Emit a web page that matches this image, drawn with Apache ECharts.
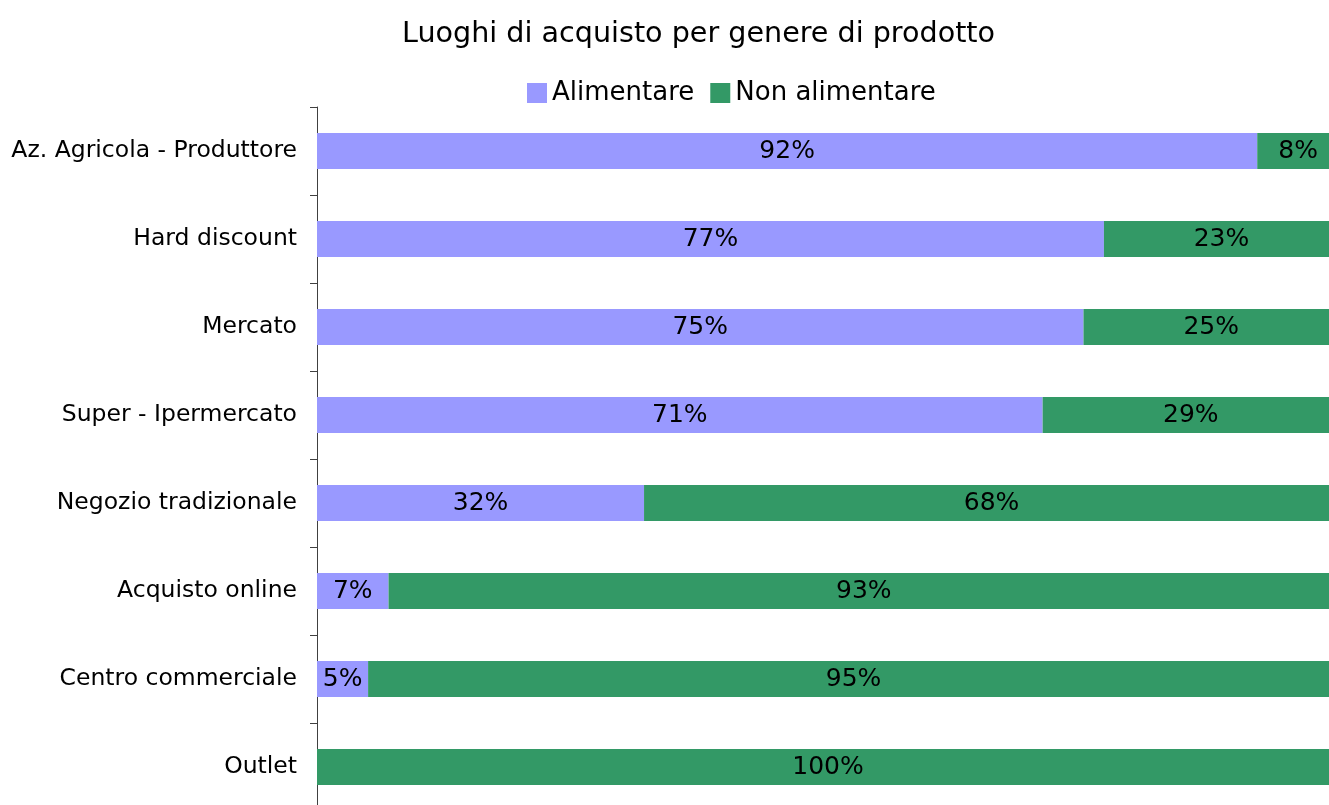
<!DOCTYPE html>
<html>
<head>
<meta charset="utf-8">
<script src="https://cdn.jsdelivr.net/npm/echarts@6/dist/echarts.min.js"></script>
<style>
  html, body { margin: 0; padding: 0; background: #fff; overflow: hidden; }
  /* plot runs slightly past the visible window, as in the original */
  #chart { width: 1339px; height: 811px; }
</style>
</head>
<body>
<div id="chart"></div>
<script>
// categories top to bottom
const categories = [
  'Az. Agricola - Produttore',
  'Hard discount',
  'Mercato',
  'Super - Ipermercato',
  'Negozio tradizionale',
  'Acquisto online',
  'Centro commerciale',
  'Outlet'
];
const alimentare = [92, 77, 75, 71, 32, 7, 5, 0];
const nonAlimentare = [8, 23, 25, 29, 68, 93, 95, 100];

const FONT = 'DejaVu Sans';

const chart = echarts.init(document.getElementById('chart'));

const labelOpt = {
  show: true,
  position: 'inside',
  color: '#000',
  fontFamily: FONT,
  fontSize: 25,
  formatter: (p) => (p.value > 0 ? p.value + '%' : '')
};

chart.setOption({
  animation: false,
  title: {
    text: 'Luoghi di acquisto per genere di prodotto',
    left: 397,
    top: 15,
    textStyle: { fontFamily: FONT, fontSize: 28.6, fontWeight: 'normal', color: '#000' }
  },
  legend: {
    data: ['Alimentare', 'Non alimentare'],
    left: 522,
    top: 75,
    icon: 'rect',
    itemWidth: 20,
    itemHeight: 20,
    itemGap: 16,
    textStyle: { fontFamily: FONT, fontSize: 26, color: '#000' }
  },
  grid: { left: 317, right: 0, top: 107, bottom: 0 },
  xAxis: {
    type: 'value',
    min: 0,
    max: 100,
    show: false
  },
  yAxis: {
    type: 'category',
    data: categories,
    inverse: true,
    axisLine: { show: true, lineStyle: { color: '#404040', width: 1 } },
    axisTick: { show: true, inside: false, length: 7, lineStyle: { color: '#404040' } },
    axisLabel: { fontFamily: FONT, fontSize: 23.5, color: '#000', margin: 20 },
    splitLine: { show: false }
  },
  series: [
    {
      name: 'Alimentare',
      type: 'bar',
      stack: 'tot',
      barWidth: 36,
      itemStyle: { color: '#9999FF' },
      label: labelOpt,
      data: alimentare
    },
    {
      name: 'Non alimentare',
      type: 'bar',
      stack: 'tot',
      barWidth: 36,
      itemStyle: { color: '#339966' },
      label: labelOpt,
      data: nonAlimentare
    }
  ]
});
</script>
</body>
</html>
